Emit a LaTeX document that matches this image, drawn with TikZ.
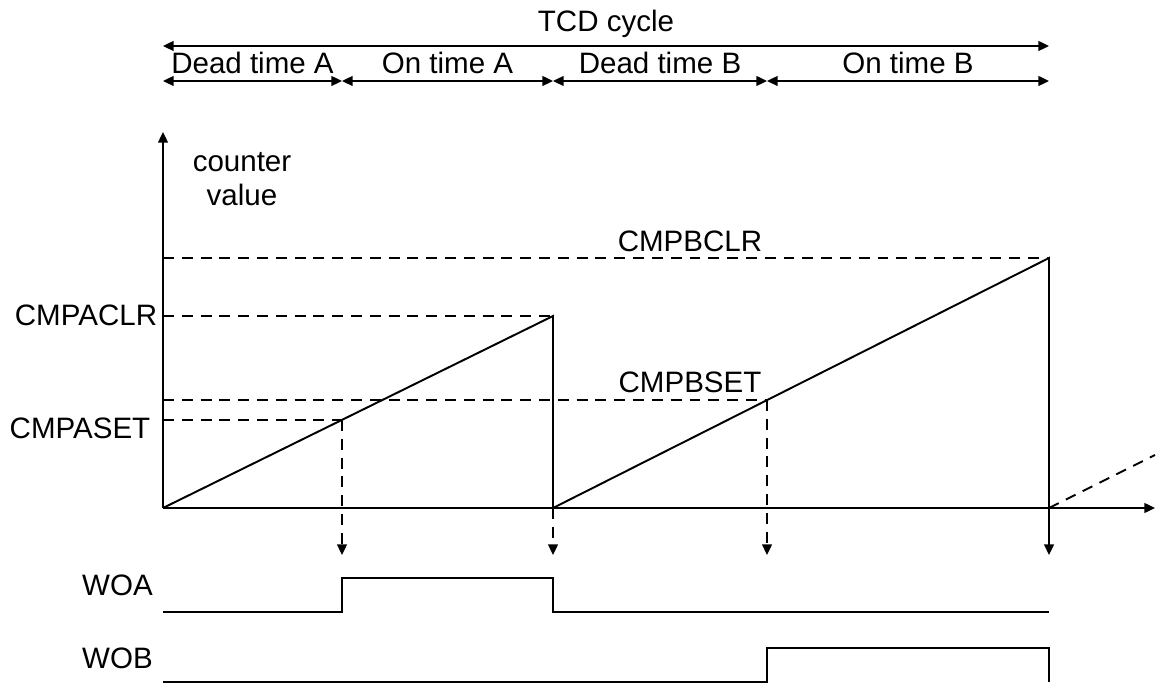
\documentclass[tikz,border=0pt]{standalone}
\usepackage{fontspec}
\setmainfont{Liberation Sans}
\usepackage{tikz}
\usetikzlibrary{arrows.meta}
\tikzset{>={Triangle[length=6pt,width=5.5pt]}}
\tikzset{
  sig/.style={line width=1.1pt},
  guide/.style={line width=1.1pt, dash pattern=on 6.2pt off 4.5pt},
  lbl/.style={anchor=base, inner sep=0pt, font=\fontsize{16.8}{19.5}\selectfont},
}

\begin{document}
\begin{tikzpicture}
  \useasboundingbox (0,0) rectangle (23.22,13.68);
  % instants on the time axis
  \coordinate (O) at (3.26,3.52);
  \coordinate (setA) at (6.84,5.28);
  \coordinate (clrA) at (11.06,7.36);
  \coordinate (rstA) at (11.06,3.52);
  \coordinate (setB) at (15.34,5.68);
  \coordinate (clrB) at (20.98,8.52);
  \coordinate (rstB) at (20.98,3.52);
  % axes
  \draw[->, sig] (O) -- (23.10,3.52) coordinate (xend);
  \draw[->, sig] (O) -- (3.26,11.04) coordinate (yend);
  \node[lbl, align=center] (cv) at (4.84,9.56) {counter\\value};
  % counter ramps
  \draw[sig] (O) -- (clrA) -- (rstA) -- (clrB) -- (rstB);
  \draw[guide] (rstB) -- (23.10,4.58) coordinate (nxt);
  % compare levels
  \draw[guide] (3.26,7.36) -- (clrA);
  \draw[guide] (3.26,8.52) -- (clrB);
  \draw[guide] (3.26,5.28) -- (setA);
  \draw[guide] (3.26,5.68) -- (setB);
  \node[lbl] (aclr) at (1.72,7.16) {CMPACLR};
  \node[lbl] (aset) at (1.60,4.92) {CMPASET};
  \node[lbl] (bclr) at (13.80,8.64) {CMPBCLR};
  \node[lbl] (bset) at (13.80,5.84) {CMPBSET};
  % events down to the outputs
  \draw[guide, ->] (setA) -- (6.84,2.58);
  \draw[guide, ->] (rstA) -- (11.06,2.58);
  \draw[guide, ->] (setB) -- (15.34,2.58);
  \draw[sig, ->] (rstB) -- (20.98,2.58);
  % outputs
  \node[lbl] (woa) at (2.35,1.78) {WOA};
  \draw[sig] (3.26,1.44) -- (6.84,1.44) -- (6.84,2.12) -- (11.06,2.12)
    -- (11.06,1.44) -- (20.98,1.44);
  \node[lbl] (wob) at (2.35,0.32) {WOB};
  \draw[sig] (3.26,0.04) -- (15.34,0.04) -- (15.34,0.72) -- (20.98,0.72)
    -- (20.98,0.04);
  % timing on top
  \draw[<->, sig] (3.26,12.76) coordinate (c0) -- (20.98,12.76) coordinate (c1)
    node[lbl, midway, yshift=8.5pt] (tcd) {TCD cycle};
  \draw[<->, sig] (3.26,12.06) coordinate (p0) -- (6.84,12.06) coordinate (p1)
    node[lbl, midway, yshift=4.5pt] (dta) {Dead time A};
  \draw[<->, sig] (p1) -- (11.06,12.06) coordinate (p2)
    node[lbl, midway, yshift=4.5pt] (ota) {On time A};
  \draw[<->, sig] (p2) -- (15.34,12.06) coordinate (p3)
    node[lbl, midway, yshift=4.5pt] (dtb) {Dead time B};
  \draw[<->, sig] (p3) -- (20.98,12.06) coordinate (p4)
    node[lbl, midway, yshift=4.5pt] (otb) {On time B};
\end{tikzpicture}
\end{document}
